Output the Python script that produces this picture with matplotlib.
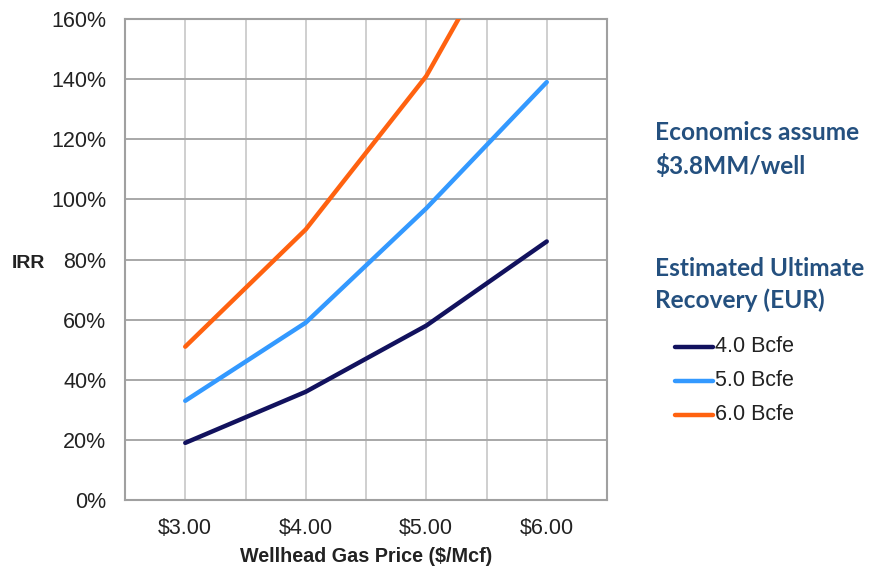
import matplotlib
matplotlib.use("Agg")
import matplotlib.pyplot as plt
from matplotlib.lines import Line2D

prices = [3.0, 4.0, 5.0, 6.0]
price_labels = ["$3.00", "$4.00", "$5.00", "$6.00"]
series_names = ["4.0 Bcfe", "5.0 Bcfe", "6.0 Bcfe"]
irr_4 = [0.19, 0.36, 0.58, 0.86]
irr_5 = [0.33, 0.59, 0.97, 1.39]
irr_6 = [0.51, 0.90, 1.41, 2.12]
colors = ["#12125e", "#3399ff", "#ff6210"]
y_ticks = [0, 0.2, 0.4, 0.6, 0.8, 1.0, 1.2, 1.4, 1.6]
y_labels = ["0%", "20%", "40%", "60%", "80%", "100%", "120%", "140%", "160%"]

plt.rcParams['font.family'] = ['Liberation Sans', 'DejaVu Sans']

fig = plt.figure(figsize=(8.78, 5.71), dpi=100)
ax = fig.add_axes([125/878, 71/571, 482/878, 481/571])

ax.set_xlim(2.5, 6.5)
ax.set_ylim(0, 1.6)
# grid
for x in [2.5, 3.0, 3.5, 4.0, 4.5, 5.0, 5.5, 6.0, 6.5]:
    ax.axvline(x, color="#cfcfcf", lw=1.4, zorder=1)
for y in y_ticks:
    ax.axhline(y, color="#a8a8a8", lw=1.4, zorder=1)

for vals, c in zip([irr_4, irr_5, irr_6], colors):
    ax.plot(prices, vals, color=c, lw=3.2, solid_capstyle="round", zorder=3)

ax.set_xticks(prices)
ax.set_xticklabels(price_labels)
ax.set_yticks(y_ticks)
ax.set_yticklabels(y_labels)
ax.tick_params(axis="both", length=0, labelsize=15.5, colors="#222222")
ax.tick_params(axis="y", pad=13.5)
ax.tick_params(axis="x", pad=13)
for s in ax.spines.values():
    s.set_color("#a0a0a0")
    s.set_linewidth(1.5)

fig.text(240/878, 1 - 557/571, "Wellhead Gas Price ($/Mcf)", fontsize=14.2, fontweight="bold",
         color="#222222", ha="left", va="center")
fig.text(12/878, 1 - 263/571, "IRR", fontsize=14, fontweight="bold", color="#222222",
         ha="left", va="center")

navy = "#24507f"
rfont = ["Lato", "DejaVu Sans"]
for txt, yp in [("Economics assume", 133), ("$3.8MM/well", 166),
                ("Estimated Ultimate", 268), ("Recovery (EUR)", 300)]:
    fig.text(655/878, 1 - yp/571, txt, fontsize=17.6, fontweight="bold",
             color=navy, family=rfont, ha="left", va="center")

for i, (name, c) in enumerate(zip(series_names, colors)):
    yy = 1 - (347 + i * 34) / 571
    fig.add_artist(Line2D([675/878, 713/878], [yy, yy], color=c, lw=3.2,
                          solid_capstyle="round", transform=fig.transFigure))
    fig.text(715/878, yy, name, fontsize=15.5, color="#222222", ha="left", va="center")

fig.savefig("out.png", dpi=100)
